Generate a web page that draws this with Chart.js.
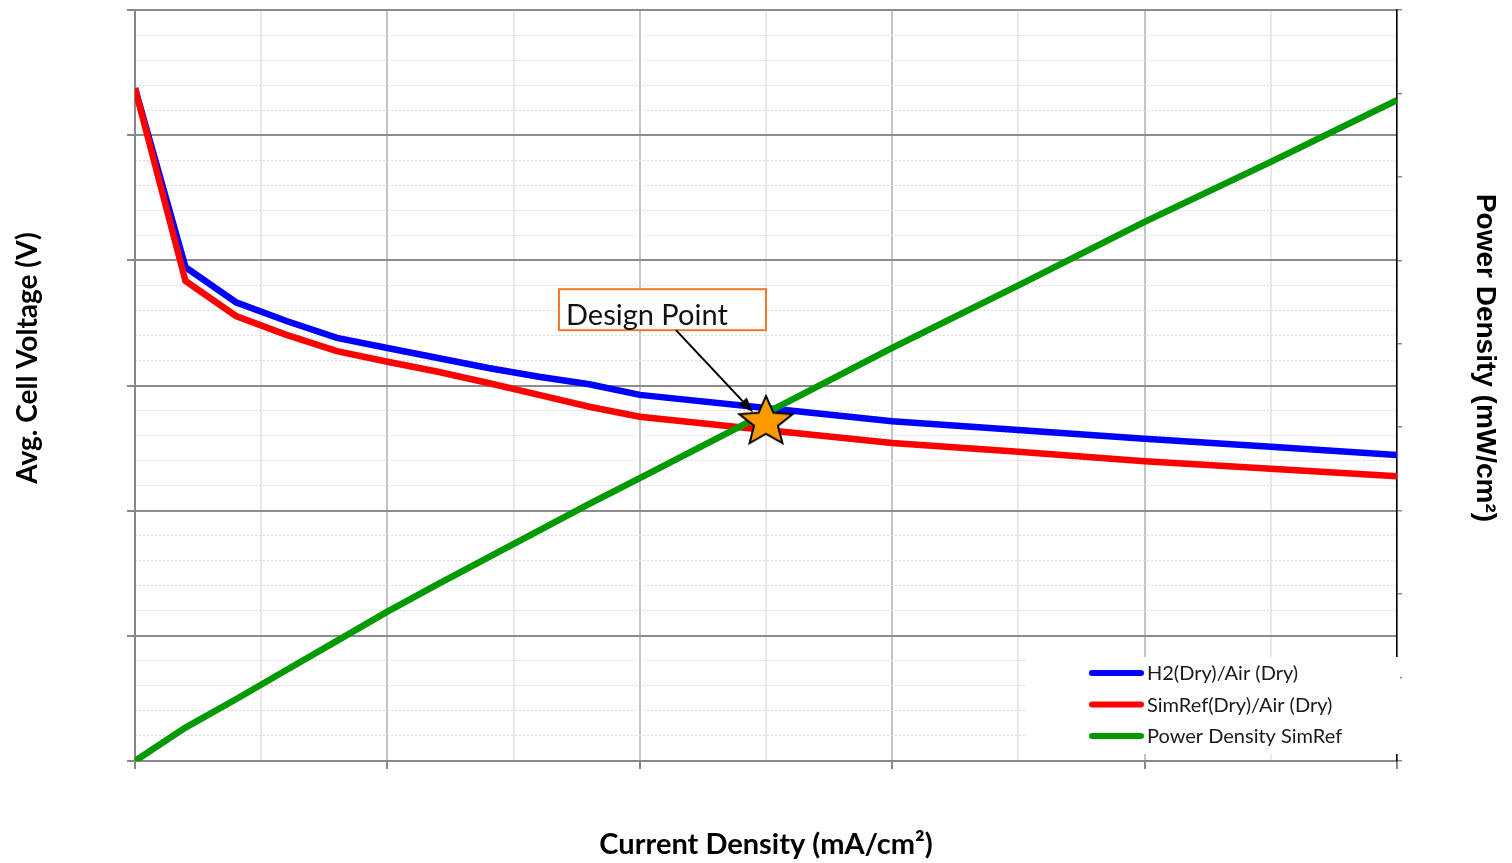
<!DOCTYPE html>
<html lang="en">
<head>
    <meta charset="UTF-8">
    <title>Polarization Curve - Design Point</title>
    <script src="https://cdn.jsdelivr.net/npm/chart.js"></script>
    <style>
        body { margin: 0; background: #fff; }
        canvas { display: block; }
    </style>
</head>
<body>
    <canvas id="polChart" width="1512" height="863"></canvas>

    <script>
        // values (mA/cm2, V, mW/cm2)
        const currentDensity = [0, 50, 100, 150, 200, 250, 300, 350, 400, 450, 500, 625, 750, 875, 1000, 1125, 1250];
        const voltageH2 = [1.075, 0.789, 0.733, 0.703, 0.676, 0.660, 0.644, 0.628, 0.614, 0.602, 0.585, 0.564, 0.543, 0.529, 0.515, 0.502, 0.489];
        const voltageSimRef = [1.075, 0.767, 0.711, 0.681, 0.655, 0.638, 0.622, 0.604, 0.585, 0.566, 0.550, 0.529, 0.508, 0.494, 0.479, 0.467, 0.455];
        const powerSimRef = [0, 40, 74, 109, 144, 179, 212, 244, 276, 308, 339, 417, 495, 570, 646, 718, 792];
        const designCurrent = [625];
        const designVoltage = [0.543];

        const seriesLabels = ['H2(Dry)/Air (Dry)', 'SimRef(Dry)/Air (Dry)', 'Power Density SimRef'];
        const seriesColors = ['#0000ff', '#ff0000', '#009900'];

        function toPoints(xs, ys) {
            return xs.map((x, i) => ({ x: x, y: ys[i] }));
        }

        function isMultiple(v, step) {
            const r = v / step;
            return Math.abs(r - Math.round(r)) < 1e-6;
        }

        // filled orange star used as point style
        function makeStar() {
            const c = document.createElement('canvas');
            c.width = 64; c.height = 64;
            const g = c.getContext('2d');
            const R = 28, r = 12.5, cx = 32, cy = 33;
            g.beginPath();
            for (let i = 0; i < 10; i++) {
                const rad = i % 2 === 0 ? R : r;
                const a = -Math.PI / 2 + i * Math.PI / 5;
                const px = cx + rad * Math.cos(a), py = cy + rad * Math.sin(a) * 0.93;
                if (i === 0) g.moveTo(px, py); else g.lineTo(px, py);
            }
            g.closePath();
            g.fillStyle = '#ff9900';
            g.fill();
            g.lineWidth = 2;
            g.strokeStyle = '#000';
            g.lineJoin = 'miter';
            g.stroke();
            return c;
        }

        const extras = {
            id: 'extras',
            afterDatasetsDraw(chart) {
                const ctx = chart.ctx;
                const xs = chart.scales.x, ys = chart.scales.y;
                const sx = xs.getPixelForValue(designCurrent[0]);
                const sy = ys.getPixelForValue(designVoltage[0]);

                // Design Point box
                const bx = sx - 207, by = sy - 132;
                ctx.save();
                ctx.fillStyle = '#fff';
                ctx.fillRect(bx, by, 207, 41);
                ctx.strokeStyle = '#f07a2a';
                ctx.lineWidth = 2;
                ctx.strokeRect(bx, by, 207, 41);
                ctx.fillStyle = '#111';
                ctx.font = '29px Lato';
                ctx.textBaseline = 'alphabetic';
                ctx.fillText('Design Point', bx + 7, by + 36);

                // arrow
                const ax0 = sx - 90, ay0 = sy - 91;
                const ax1 = sx - 13, ay1 = sy - 9;
                const ang = Math.atan2(ay1 - ay0, ax1 - ax0);
                ctx.strokeStyle = '#000';
                ctx.lineWidth = 2;
                ctx.beginPath();
                ctx.moveTo(ax0, ay0);
                ctx.lineTo(ax1 - 10 * Math.cos(ang), ay1 - 10 * Math.sin(ang));
                ctx.stroke();
                ctx.fillStyle = '#000';
                ctx.beginPath();
                ctx.moveTo(ax1, ay1);
                ctx.lineTo(ax1 - 15 * Math.cos(ang) + 5.5 * Math.sin(ang), ay1 - 15 * Math.sin(ang) - 5.5 * Math.cos(ang));
                ctx.lineTo(ax1 - 15 * Math.cos(ang) - 5.5 * Math.sin(ang), ay1 - 15 * Math.sin(ang) + 5.5 * Math.cos(ang));
                ctx.closePath();
                ctx.fill();
                ctx.restore();
            },
            afterDraw(chart) {
                const ctx = chart.ctx;
                const area = chart.chartArea;
                ctx.save();

                // legend box inside the plot, lower right
                ctx.fillStyle = '#fff';
                ctx.fillRect(area.right - 370, area.bottom - 104, 373, 97);
                ctx.font = '20px Lato';
                ctx.textBaseline = 'middle';
                seriesLabels.forEach((lab, i) => {
                    const ly = area.bottom - 88 + i * 31.5;
                    ctx.strokeStyle = seriesColors[i];
                    ctx.lineWidth = 6;
                    ctx.lineCap = 'round';
                    ctx.beginPath();
                    ctx.moveTo(area.right - 305, ly);
                    ctx.lineTo(area.right - 256, ly);
                    ctx.stroke();
                    ctx.fillStyle = '#1a1a1a';
                    ctx.fillText(lab, area.right - 250, ly + 1);
                });

                // axis titles
                ctx.fillStyle = '#000';
                ctx.textAlign = 'center';
                ctx.textBaseline = 'middle';

                ctx.save();
                ctx.translate(28, 358);
                ctx.rotate(-Math.PI / 2);
                ctx.font = 'bold 28px Lato';
                ctx.fillText('Avg. Cell Voltage (V)', 0, 0);
                ctx.restore();

                ctx.save();
                ctx.translate(1485, 358);
                ctx.rotate(Math.PI / 2);
                ctx.font = 'bold 28px "Liberation Sans"';
                ctx.fillText('Power Density (mW/cm²)', 0, 0);
                ctx.restore();

                ctx.font = 'bold 29px Lato';
                ctx.fillText('Current Density (mA/cm²)', (area.left + area.right) / 2, 845);
                ctx.restore();
            }
        };

        const ctx = document.getElementById('polChart').getContext('2d');
        new Chart(ctx, {
            type: 'line',
            data: {
                datasets: [{
                    label: 'Design Point',
                    type: 'scatter',
                    data: toPoints(designCurrent, designVoltage),
                    pointStyle: makeStar(),
                    pointRadius: 32,
                    yAxisID: 'y',
                    order: -1
                }, {
                    label: seriesLabels[0],
                    data: toPoints(currentDensity, voltageH2),
                    borderColor: seriesColors[0],
                    borderWidth: 6.5,
                    pointRadius: 0,
                    fill: false,
                    yAxisID: 'y',
                    order: 2
                }, {
                    label: seriesLabels[1],
                    data: toPoints(currentDensity, voltageSimRef),
                    borderColor: seriesColors[1],
                    borderWidth: 6.5,
                    pointRadius: 0,
                    fill: false,
                    yAxisID: 'y',
                    order: 1
                }, {
                    label: seriesLabels[2],
                    data: toPoints(currentDensity, powerSimRef),
                    borderColor: seriesColors[2],
                    borderWidth: 6.5,
                    pointRadius: 0,
                    fill: false,
                    yAxisID: 'y2',
                    order: 0
                }]
            },
            options: {
                responsive: false,
                animation: false,
                layout: { autoPadding: false, padding: { top: 10, left: 0, right: 0, bottom: 0 } },
                plugins: {
                    legend: { display: false },
                    tooltip: { enabled: false }
                },
                scales: {
                    x: {
                        type: 'linear',
                        min: 0,
                        max: 1250,
                        ticks: { display: false, stepSize: 125 },
                        grid: {
                            color: c => isMultiple(c.tick.value, 250) ? '#c4c4c4' : '#e8e8e8',
                            lineWidth: 2,
                            tickLength: 8,
                            tickColor: c => isMultiple(c.tick.value, 250) ? '#888' : 'rgba(0,0,0,0)'
                        },
                        border: { color: '#888', width: 2 },
                        afterFit: s => { s.height = 102; }
                    },
                    yMinor: {
                        position: 'left',
                        min: 0,
                        max: 1.2,
                        ticks: { display: false, stepSize: 0.04 },
                        grid: {
                            color: c => isMultiple(c.tick.value, 0.2) ? 'rgba(0,0,0,0)' : '#d8d8d8',
                            lineWidth: 1,
                            drawTicks: false
                        },
                        border: { display: false, dash: [2, 2] },
                        afterFit: s => { s.width = 0; }
                    },
                    y: {
                        position: 'left',
                        min: 0,
                        max: 1.2,
                        ticks: { display: false, stepSize: 0.2 },
                        grid: {
                            color: '#8c8c8c',
                            lineWidth: 2,
                            tickLength: 8,
                            tickColor: '#888'
                        },
                        border: { color: '#888', width: 2 },
                        afterFit: s => { s.width = 135; }
                    },
                    y2: {
                        position: 'right',
                        min: 0,
                        max: 900,
                        ticks: { display: false, stepSize: 100 },
                        grid: {
                            drawOnChartArea: false,
                            tickLength: 5,
                            tickColor: '#888',
                            lineWidth: 1.5
                        },
                        border: { color: '#000', width: 1.5 },
                        afterFit: s => { s.width = 115; }
                    }
                }
            },
            plugins: [extras]
        });
    </script>
</body>
</html>
